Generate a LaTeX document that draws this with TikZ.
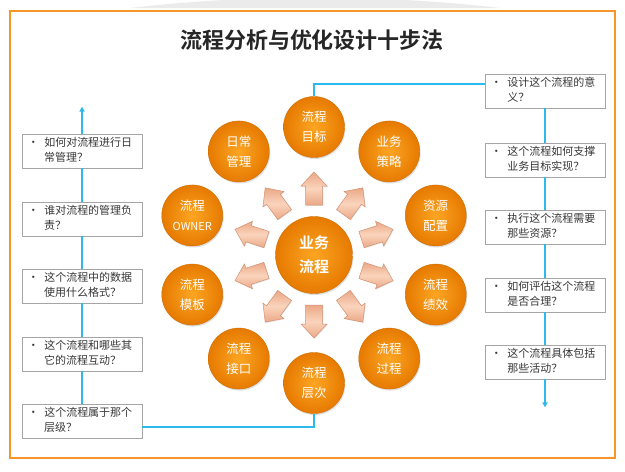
\documentclass[tikz,border=0pt]{standalone}
\usepackage{fontspec}
\newfontfamily\cjk{Noto Sans CJK SC}[BoldFont={Noto Sans CJK SC Bold}]
\usetikzlibrary{shadows,arrows.meta,calc}
\definecolor{frameor}{RGB}{245,150,40}
\definecolor{lineblue}{RGB}{45,185,235}
\definecolor{boxgrey}{RGB}{165,165,165}
\definecolor{txtgrey}{RGB}{55,55,55}
\definecolor{orin}{RGB}{252,165,35}
\definecolor{orout}{RGB}{230,122,0}
\definecolor{pchin}{RGB}{250,212,188}
\definecolor{pchout}{RGB}{235,168,135}
\definecolor{pchedge}{RGB}{210,145,115}
\newcommand{\qtx}[2]{\begin{tabular}{@{}l@{\hspace{5.5pt}}l@{}}\textbullet & #1\\ & #2\end{tabular}}
\tikzset{
  qbox/.style={draw=boxgrey, line width=0.9pt, fill=white, minimum width=120pt, minimum height=34pt, inner sep=0pt,
    drop shadow={shadow xshift=1pt, shadow yshift=-1pt, opacity=0.15}},
  qtext/.style={anchor=west, inner sep=0pt, text=txtgrey, font=\cjk\fontsize{11}{15}\selectfont},
  ball/.style={circle, minimum size=61pt, inner sep=0pt, inner color=orin, outer color=orout,
    draw=orout!90!black, line width=0.4pt, text=white, align=center, font=\cjk\fontsize{12.5}{20}\selectfont,
    drop shadow={shadow xshift=1pt, shadow yshift=-1.5pt, opacity=0.25}},
  bigball/.style={ball, minimum size=77pt, font=\cjk\bfseries\fontsize{15}{24}\selectfont},
  conn/.style={draw=lineblue, line width=1.4pt},
  barrow/.style={draw=pchedge, line width=0.5pt, top color=pchout, bottom color=pchout, middle color=pchin,
    drop shadow={shadow xshift=0.8pt, shadow yshift=-0.8pt, opacity=0.2}}
}
\begin{document}
\begin{tikzpicture}[x=1pt,y=-1pt]
\useasboundingbox (0,0) rectangle (625,472);
% faint top shadow
\fill[black!8] (130,8) .. controls (250,-6) and (380,-6) .. (500,8) -- cycle;
% frame
\draw[frameor, line width=1.6pt, fill=white] (10,11) rectangle (615,458);
% title
\node[font=\cjk\bfseries\fontsize{22}{26}\selectfont, text=black!85] (title) at (312,40) {流程分析与优化设计十步法};

% ring of arrows
\coordinate (c) at (314,255);
\foreach \a in {90,126,162,198,234,270,306,342,18,54}{
  \begin{scope}[shift={(c)}, rotate=\a]
    \begin{scope}[x={(1pt,0pt)}, y={(0pt,1pt)}]
      \path[barrow] (50,-8.5) -- (69,-8.5) -- (69,-13) -- (83,0) -- (69,13) -- (69,8.5) -- (50,8.5) -- cycle;
    \end{scope}
  \end{scope}
}
\node[bigball] (center) at (c) {业务\\流程};
\node[ball] (mubiao) at ({314+128*cos(90)},{255-128*sin(90)}) {流程\\目标};
\node[ball] (richang) at ({314+128*cos(126)},{255-128*sin(126)}) {日常\\管理};
\node[ball] (owner) at ({314+128*cos(162)},{255-128*sin(162)}) {流程\\{\fontsize{11}{20}\selectfont OWNER}};
\node[ball] (muban) at ({314+128*cos(198)},{255-128*sin(198)}) {流程\\模板};
\node[ball] (jiekou) at ({314+128*cos(234)},{255-128*sin(234)}) {流程\\接口};
\node[ball] (cengci) at ({314+128*cos(270)},{255-128*sin(270)}) {流程\\层次};
\node[ball] (guocheng) at ({314+128*cos(306)},{255-128*sin(306)}) {流程\\过程};
\node[ball] (jixiao) at ({314+128*cos(342)},{255-128*sin(342)}) {流程\\绩效};
\node[ball] (ziyuan) at ({314+128*cos(18)},{255-128*sin(18)}) {资源\\配置};
\node[ball] (celue) at ({314+128*cos(54)},{255-128*sin(54)}) {业务\\策略};

% boxes
\foreach \n/\y in {l1/151,l2/219,l3/286,l4/354,l5/421}{
  \node[qbox] (\n) at (82,\y) {};
}
\foreach \n/\y in {r1/91,r2/160,r3/227,r4/295,r5/362}{
  \node[qbox] (\n) at (545,\y) {};
}
\coordinate (ltop) at ($(l1.north)+(0,-27)$);
\coordinate (rbot) at ($(r5.south)+(0,28)$);
% connectors
\draw[conn, -{Triangle[length=5pt,width=5pt]}] (l1.north) -- (ltop);
\draw[conn] (l2.north) -- (l1.south);
\draw[conn] (l3.north) -- (l2.south);
\draw[conn] (l4.north) -- (l3.south);
\draw[conn] (l5.north) -- (l4.south);
\draw[conn] (l5.east |- 0,427) -| (cengci.south);
\draw[conn] (r1.west |- 0,84) -| (mubiao.north);
\draw[conn] (r1.south) -- (r2.north);
\draw[conn] (r2.south) -- (r3.north);
\draw[conn] (r3.south) -- (r4.north);
\draw[conn] (r4.south) -- (r5.north);
\draw[conn, -{Triangle[length=5pt,width=5pt]}] (r5.south) -- (rbot);

% box texts
\node[qtext] (tl1) at ([xshift=6pt]l1.west) {\qtx{如何对流程进行日}{常管理？}};
\node[qtext] (tl2) at ([xshift=6pt]l2.west) {\qtx{谁对流程的管理负}{责？}};
\node[qtext] (tl3) at ([xshift=6pt]l3.west) {\qtx{这个流程中的数据}{使用什么格式？}};
\node[qtext] (tl4) at ([xshift=6pt]l4.west) {\qtx{这个流程和哪些其}{它的流程互动？}};
\node[qtext] (tl5) at ([xshift=6pt]l5.west) {\qtx{这个流程属于那个}{层级？}};
\node[qtext] (tr1) at ([xshift=6pt]r1.west) {\qtx{设计这个流程的意}{义？}};
\node[qtext] (tr2) at ([xshift=6pt]r2.west) {\qtx{这个流程如何支撑}{业务目标实现？}};
\node[qtext] (tr3) at ([xshift=6pt]r3.west) {\qtx{执行这个流程需要}{那些资源？}};
\node[qtext] (tr4) at ([xshift=6pt]r4.west) {\qtx{如何评估这个流程}{是否合理？}};
\node[qtext] (tr5) at ([xshift=6pt]r5.west) {\qtx{这个流程具体包括}{那些活动？}};
\end{tikzpicture}
\end{document}
